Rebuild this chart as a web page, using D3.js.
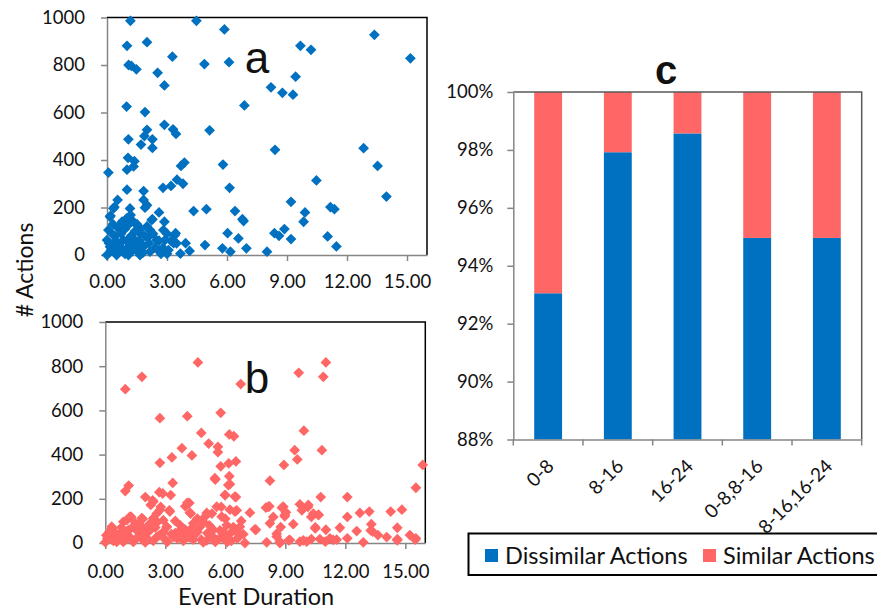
<!DOCTYPE html>
<html>
<head>
<meta charset="utf-8">
<script src="https://cdn.jsdelivr.net/npm/d3@7"></script>
<style>
  body { margin: 0; background: #fff; }
  svg text { font-family: Lato, "Open Sans", sans-serif; fill: #111; }
  .axis path, .axis line { stroke: #868686; stroke-width: 1.5; }
  .axis text { font-size: 18.5px; }
  .catAxis text { font-size: 19px; }
  .big { font-family: "Liberation Sans", Arial, sans-serif !important; }
</style>
</head>
<body>
<script>
// panel a: events with dissimilar actions (duration, # actions)
const pointsA = [
  [1.17,986],[4.47,986],[5.87,950],[13.37,927],[1.0,881],[2.0,896],[9.67,881],[10.2,864],
  [3.27,835],[4.87,804],[6.1,812],[15.17,828],[1.08,800],[1.22,796],[1.47,782],[2.53,767],
  [9.43,751],[2.87,714],[8.2,706],[8.77,683],[9.3,675],[6.87,630],[0.98,625],[1.9,602],
  [2.87,548],[3.3,529],[3.45,510],[5.13,525],[2.0,527],[1.87,501],[1.07,487],[2.27,487],
  [1.7,465],[2.27,451],[8.4,443],[12.83,450],[1.05,409],[1.37,395],[1.33,373],[13.53,375],
  [3.87,389],[3.7,375],[5.8,381],[0.07,347],[1.0,359],[10.47,314],[3.5,317],[3.2,291],
  [3.8,300],[2.8,283],[6.13,283],[1.0,275],[1.83,269],[13.97,246],[0.53,232],[1.83,232],
  [2.0,210],[0.37,202],[1.9,199],[9.2,224],[11.17,202],[11.37,193],[4.33,185],[4.97,193],
  [6.4,185],[9.9,179],[2.6,179],[0.17,165],[6.77,151],[6.83,143],[9.83,140],[2.87,140],
  [2.27,151],[8.37,92],[8.87,109],[8.6,81],[6.03,92],[6.57,70],[9.2,67],[11.03,78],
  [11.47,36],[4.9,42],[5.77,28],[6.17,14],[6.97,28],[8.0,14],[4.13,17],[3.67,6],
  [3.93,50],[3.43,92],[3.33,50],
  [0.32,196],[0.15,161],[1.15,196],[1.18,168],[0.98,154],[1.32,140],[2.23,147],[0.07,105],
  [0.57,112],[0.65,126],[1.65,91],[2.15,105],[2.82,105],[3.4,84],[3.48,49],[2.9,63],
  [2.48,63],[0.0,63],[0.32,49],[0.82,63],[1.32,70],[1.82,35],[1.48,35],[1.07,35],
  [0.57,28],[0.15,35],[0.0,0],[0.48,0],[1.07,0],[1.65,0],[2.15,14],[2.57,21],[3.07,21],
  [0.2,20],[0.4,80],[0.7,90],[0.9,110],[1.0,60],[1.2,80],[1.4,100],[1.6,60],[1.7,110],
  [1.9,80],[2.1,50],[2.3,90],[0.3,130],[0.6,40],[0.8,15],[1.3,20],[1.5,130],[1.1,130],
  [2.0,120],[0.1,50],[0.5,5],[0.9,5],[1.8,10],[2.4,30],[2.6,60],[2.7,5],[3.0,5],[3.2,60],
  [3.0,90],[2.8,30],[0.25,90],[0.75,140],[1.25,50],[1.55,15],[2.05,75],[0.45,60],[1.75,45]
];

// panel b: events with similar actions
const pointsB = [
  [4.63,817],[11.03,817],[1.0,696],[1.83,752],[6.77,719],[9.67,770],[10.9,752],
  [2.73,565],[4.1,574],[5.77,589],[4.8,498],[9.93,508],[6.2,491],[6.43,483],
  [5.17,450],[5.63,435],[5.63,411],[3.83,429],[4.33,396],[9.47,420],[10.83,420],
  [3.33,387],[2.73,363],[9.6,378],[8.93,353],[5.77,347],[6.17,360],[6.53,369],[15.87,353],
  [3.37,272],[5.5,287],[6.2,302],[6.23,266],[8.23,282],[1.17,260],[1.0,235],
  [15.53,250],[2.0,208],[2.7,230],[2.87,224],[3.27,217],[6.0,217],[6.53,208],[10.77,208],[12.1,208],
  [2.37,193],[2.27,172],[4.0,166],[4.2,181],[4.27,133],[2.77,163],[3.2,148],[2.57,133],[2.9,103],
  [7.23,137],[8.03,160],[8.2,166],[9.73,175],[10.13,163],[9.83,148],[8.83,160],[9.03,139],[8.97,121],
  [8.4,118],[10.4,133],[10.3,118],[10.67,127],[12.1,118],[12.73,136],[13.2,142],[14.27,142],[14.83,151],
  [5.8,163],[6.23,151],[6.57,148],[5.33,133],[5.07,136],[1.3,118],[1.07,103],[1.87,109],
  [7.53,60],[9.4,85],[10.5,66],[11.03,60],[11.73,69],[12.57,54],[13.3,85],[13.27,57],[13.63,36],
  [14.07,27],[14.6,69],[15.23,36],[15.5,15],[14.6,12],[12.9,3],[11.57,15],[11.23,21],[10.73,18],
  [10.3,18],[9.9,12],[9.17,12],[8.73,0],[8.07,3],[8.57,42],[8.77,72],[6.98,0],[6.73,35],[6.4,72],
  [6.23,42],[5.73,57],[5.4,27],[5.07,12],[4.73,72],[4.23,42],[3.73,57],[3.4,27],[3.07,72],[2.57,27],
  [2.23,57],[1.9,12],[1.57,57],[1.23,27],[0.73,42],[0.33,66],[0.23,27],[0.0,3],[0.57,5],[0.9,5],[1.4,5],
  [2.4,187],[4.1,182],[4.23,137],[2.73,149],[3.23,142],[2.4,112],[1.82,112],[1.23,119],[0.9,96],[0.32,74],
  [5.57,164],[5.98,217],[6.48,210],[6.15,262],[5.48,293],[7.48,62],[6.48,142],[5.82,119],[4.9,96],
  [4.4,89],[3.73,81],[3.07,74],[1.9,66],[1.4,74],[6.07,81],[6.73,74],
  [8.15,164],[8.9,164],[10.15,172],[10.65,127],[8.98,127],[8.23,89],[10.5,71],[13.37,51],[14.6,17],
  [15.53,21],[12.1,21],[11.4,14],[11.0,6],[10.07,6],[9.73,6],[9.23,14],[8.57,29],[8.73,6],
  [0.1,20],[0.4,10],[0.7,20],[1.0,30],[1.3,15],[1.6,25],[1.8,40],[2.1,20],[2.4,10],[2.7,35],
  [3.0,15],[3.3,40],[3.6,20],[3.9,10],[4.2,25],[4.5,40],[4.8,15],[5.1,45],[5.4,60],[5.7,20],
  [6.0,30],[6.3,10],[6.6,20],[6.9,40],[0.5,45],[1.1,55],[1.7,85],[2.0,40],[2.9,50],[3.5,45],
  [4.0,60],[4.6,50],[5.2,80],[5.9,50],[6.5,55],[0.2,50],[2.2,85],[4.4,15],[5.5,5],[6.1,5],
  [3.1,5],[2.0,3],[4.9,3],[0.8,70],[1.5,90],[2.6,95],[3.5,100],[4.6,110],[5.0,120],[6.0,110],
  [6.8,100],[0.05,35],[1.2,60],[3.8,35],[5.9,20],[4.3,65],[2.5,70]
];

const durationTicks = [0, 3, 6, 9, 12, 15];
const actionTicks = [0, 200, 400, 600, 800, 1000];

// panel c
const groups = ['0-8', '8-16', '16-24', '0-8,8-16', '8-16,16-24'];
const dissimilar = [93.05, 97.92, 98.57, 94.96, 94.96];
const similar = [6.95, 2.08, 1.43, 5.04, 5.04];
const pctTicks = [88, 90, 92, 94, 96, 98, 100];
const seriesNames = ['Dissimilar Actions', 'Similar Actions'];

const BLUE = '#0070c0', RED = '#ff6666';

const svg = d3.select('body').append('svg')
    .attr('width', 877)
    .attr('height', 609);

const diamond = d3.symbol(d3.symbolSquare, 58);

function scatterPanel(pts, color, box, letter) {
    const x = d3.scaleLinear().domain([0, 16]).range([box.left, box.right]);
    const y = d3.scaleLinear().domain([0, 1000]).range([box.bottom, box.top]);

    // top + right frame
    svg.append('path')
        .attr('d', `M${box.left},${box.top}H${box.right}V${box.bottom}`)
        .attr('fill', 'none')
        .attr('stroke', '#000')
        .attr('stroke-width', 1.5);

    svg.append('g').attr('class', 'axis')
        .attr('transform', `translate(0,${box.bottom})`)
        .call(d3.axisBottom(x).tickValues(durationTicks).tickFormat(d3.format('.2f'))
            .tickSize(6).tickSizeOuter(0).tickPadding(box.xpad));

    svg.append('g').attr('class', 'axis')
        .attr('transform', `translate(${box.left},0)`)
        .call(d3.axisLeft(y).tickValues(actionTicks).tickFormat(d3.format('d'))
            .tickSize(6).tickSizeOuter(0).tickPadding(16));

    svg.append('g').selectAll('path')
        .data(pts)
        .join('path')
        .attr('d', diamond)
        .attr('fill', color)
        .attr('transform', d => `translate(${x(d[0])},${y(d[1])}) rotate(45)`);

    svg.append('text')
        .attr('class', 'big')
        .attr('x', box.labelX).attr('y', box.labelY)
        .attr('text-anchor', 'middle')
        .style('font-size', '44px')
        .text(letter);
}

scatterPanel(pointsA, BLUE, {left: 107, right: 427, top: 17.5, bottom: 255, xpad: 14, labelX: 257, labelY: 73}, 'a');
scatterPanel(pointsB, RED, {left: 105.3, right: 425.3, top: 322, bottom: 543, xpad: 16, labelX: 257, labelY: 393}, 'b');

svg.append('text')
    .attr('transform', 'translate(33,270) rotate(-90)')
    .attr('text-anchor', 'middle')
    .style('font-size', '23px')
    .text('# Actions');

svg.append('text')
    .attr('x', 256).attr('y', 605)
    .attr('text-anchor', 'middle')
    .style('font-size', '23.5px')
    .text('Event Duration');

// ---- panel c: stacked percentage bars ----
const xc = d3.scaleBand().domain(groups).range([513.3, 861.7])
    .paddingInner(0.6).paddingOuter(0.3);
const yc = d3.scaleLinear().domain([88, 100]).range([439.5, 92]).clamp(true);

const rows = groups.map((g, i) => ({group: g, [seriesNames[0]]: dissimilar[i], [seriesNames[1]]: similar[i]}));
const stacked = d3.stack().keys(seriesNames)(rows);
const colorC = d3.scaleOrdinal(seriesNames, [BLUE, RED]);

svg.append('g').selectAll('g')
    .data(stacked)
    .join('g')
    .attr('fill', s => colorC(s.key))
    .selectAll('rect')
    .data(s => s)
    .join('rect')
    .attr('x', d => xc(d.data.group))
    .attr('width', xc.bandwidth())
    .attr('y', d => yc(d[1]))
    .attr('height', d => yc(d[0]) - yc(d[1]));

svg.append('path')
    .attr('d', `M513.3,92H861.7V439.5`)
    .attr('fill', 'none')
    .attr('stroke', '#595959')
    .attr('stroke-width', 1.5);

svg.append('g').attr('class', 'axis')
    .attr('transform', 'translate(513.3,0)')
    .call(d3.axisLeft(yc).tickValues(pctTicks).tickFormat(d => d + '%')
        .tickSize(6).tickSizeOuter(0).tickPadding(14));

const xAxisC = svg.append('g').attr('class', 'axis catAxis')
    .attr('transform', 'translate(0,439.5)')
    .call(d3.axisBottom(xc).tickSize(0).tickSizeOuter(0));
xAxisC.selectAll('.tick text')
    .attr('y', null).attr('dy', null)
    .attr('text-anchor', 'end')
    .attr('transform', 'translate(7,28) rotate(-45)');

// boundary ticks between categories
const boundaries = groups.map(g => xc(g) - xc.step() * xc.paddingOuter()).concat([xc.range()[1]]);
xAxisC.selectAll('line.bound')
    .data(boundaries)
    .join('line')
    .attr('class', 'bound')
    .attr('x1', d => d).attr('x2', d => d)
    .attr('y1', 0).attr('y2', 6);

svg.append('text')
    .attr('class', 'big')
    .attr('x', 666).attr('y', 84)
    .attr('text-anchor', 'middle')
    .style('font-size', '40px')
    .style('font-weight', 'bold')
    .text('c');

// legend
const legend = svg.append('g');
legend.append('rect')
    .attr('x', 468.5).attr('y', 533.5)
    .attr('width', 430).attr('height', 41.5)
    .attr('fill', '#fff')
    .attr('stroke', '#000')
    .attr('stroke-width', 2);

const legendX = [485, 703];
const items = legend.selectAll('g.item')
    .data(seriesNames)
    .join('g')
    .attr('class', 'item')
    .attr('transform', (d, i) => `translate(${legendX[i]},549)`);
items.append('rect')
    .attr('width', 13).attr('height', 13)
    .attr('fill', d => colorC(d));
items.append('text')
    .attr('x', 20).attr('y', 14.5)
    .style('font-size', '23.5px')
    .text(d => d);
</script>
</body>
</html>
